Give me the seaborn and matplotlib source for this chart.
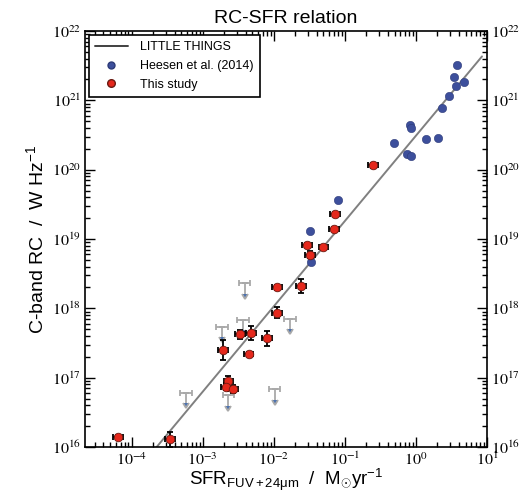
import numpy as np
import matplotlib
matplotlib.use("Agg")
import matplotlib.pyplot as plt
import seaborn as sns
from matplotlib.lines import Line2D
from matplotlib.ticker import LogLocator, FuncFormatter, NullFormatter

# Heesen et al. (2014) galaxies: SFR [Msun/yr], C-band radio continuum [W/Hz]
heesen_sfr = [3.82, 3.43, 3.66, 4.79, 2.94, 2.34, 0.82, 0.84, 0.49, 1.38,
              2.04, 0.74, 0.85, 0.079, 0.032, 0.033]
heesen_rc = [3.24e21, 2.19e21, 1.62e21, 1.86e21, 1.17e21, 7.8e20, 4.4e20,
             4.0e20, 2.45e20, 2.8e20, 2.9e20, 1.66e20, 1.55e20, 3.6e19,
             1.3e19, 4.6e18]

# This study: detections with uncertainties (in dex)
study_sfr = [0.25, 0.072, 0.070, 0.029, 0.050, 0.032, 0.011, 0.024, 0.011,
             0.0033, 0.0048, 0.0081, 0.0019, 0.0044, 0.0023, 0.0021, 0.0027,
             6.5e-5, 3.5e-4]
study_rc = [1.15e20, 2.3e19, 1.4e19, 8.1e18, 7.6e18, 5.9e18, 2.0e18, 2.1e18,
            8.7e17, 4.2e17, 4.4e17, 3.7e17, 2.5e17, 2.2e17, 8.9e16, 7.4e16,
            6.9e16, 1.38e16, 1.29e16]
study_sfr_err_dex = [0.07] * len(study_sfr)
study_rc_err_dex = [0.03, 0.03, 0.03, 0.03, 0.03, 0.05, 0.03, 0.10, 0.08,
                    0.06, 0.10, 0.11, 0.14, 0.03, 0.07, 0.05, 0.06, 0.03, 0.11]

# This study: non-detections (upper limits)
limit_sfr = [0.0039, 0.0168, 0.0037, 0.00186, 5.8e-4, 0.0103, 0.0023]
limit_rc = [2.3e18, 7.1e17, 6.8e17, 5.4e17, 6.0e16, 6.8e16, 5.6e16]
limit_sfr_err_dex = 0.08
limit_arrow_dex = 0.15

# LITTLE THINGS relation (end points)
littlethings_sfr = [1.0e-4, 8.5]
littlethings_rc = [3.7e15, 4.3e21]

sns.set_theme(style="ticks")
plt.rcParams.update({
    "font.family": ["Liberation Sans", "DejaVu Sans"],
    "mathtext.fontset": "stix",
    "mathtext.rm": "Liberation Sans",
    "mathtext.it": "Liberation Sans:italic",
    "mathtext.bf": "Liberation Sans:bold",
    "text.color": "black",
    "axes.labelcolor": "black",
    "xtick.color": "black",
    "ytick.color": "black",
    "axes.edgecolor": "black",
})

fig = plt.figure(figsize=(5.2, 4.95), dpi=100)
ax = fig.add_axes([85 / 520, 48 / 495, 402 / 520, 416 / 495])
ax.set_xscale("log")
ax.set_yscale("log")


def dex_err(values, dex):
    v = np.asarray(values, dtype=float)
    d = np.broadcast_to(np.asarray(dex, dtype=float), v.shape)
    return np.vstack([v - v * 10 ** (-d), v * 10 ** d - v])


# relation line
sns.lineplot(x=littlethings_sfr, y=littlethings_rc, ax=ax, color="#808080",
             lw=1.4, zorder=2, estimator=None, sort=False)

# upper limits
ax.errorbar(limit_sfr, limit_rc,
            xerr=dex_err(limit_sfr, limit_sfr_err_dex),
            yerr=np.asarray(limit_rc) * (1 - 10 ** (-limit_arrow_dex)),
            uplims=True, fmt="none", ecolor="#a9a9a9", elinewidth=1.3,
            capsize=2.5, capthick=1.3, zorder=2)

# Heesen et al. points
sns.scatterplot(x=heesen_sfr, y=heesen_rc, ax=ax, color="#3d4f9c", s=36,
                edgecolor="#2c3a78", linewidth=0.4, zorder=4)

# detections with error bars
ax.errorbar(study_sfr, study_rc,
            xerr=dex_err(study_sfr, study_sfr_err_dex),
            yerr=dex_err(study_rc, study_rc_err_dex),
            fmt="none", ecolor="black", elinewidth=1.3, capsize=2.5,
            capthick=1.3, zorder=3)
sns.scatterplot(x=study_sfr, y=study_rc, ax=ax, color="#e5281c", s=38,
                edgecolor="#6a1a12", linewidth=0.6, zorder=5)

ax.set_xlim(2.2e-5, 10)
ax.set_ylim(1e16, 1e22)


def pow10(val, pos):
    return r"$10^{%d}$" % int(round(np.log10(val)))


for axis in (ax.xaxis, ax.yaxis):
    axis.set_major_locator(LogLocator(base=10, numticks=20))
    axis.set_minor_locator(LogLocator(base=10, subs=np.arange(2, 10), numticks=20))
    axis.set_major_formatter(FuncFormatter(pow10))
    axis.set_minor_formatter(NullFormatter())

ax.tick_params(which="both", direction="in", top=True, right=True,
               labelright=True, width=1.0, labelsize=11.5)
ax.tick_params(axis="x", pad=3)
ax.tick_params(axis="y", pad=3)
ax.tick_params(which="major", length=7)
ax.tick_params(which="minor", length=3.5)
for sp in ax.spines.values():
    sp.set_linewidth(1.2)
    sp.set_color("black")

ax.set_xlabel(r"SFR$_{\mathrm{FUV+24\mu m}}$  /  M$_{\odot}$yr$^{-1}$",
              fontsize=13.5, math_fontfamily="custom", labelpad=-1)
ax.set_ylabel(r"C-band RC  /  W Hz$^{-1}$", fontsize=14,
              math_fontfamily="custom", labelpad=3)
ax.set_title("RC-SFR relation", fontsize=14, pad=6)

handles = [
    Line2D([], [], color="#404040", lw=1.4),
    Line2D([], [], ls="none", marker="o", markersize=5,
           markerfacecolor="#3d4f9c", markeredgecolor="#2c3a78"),
    Line2D([], [], ls="none", marker="o", markersize=5.5,
           markerfacecolor="#e5281c", markeredgecolor="#6a1a12"),
]
labels = ["LITTLE THINGS", "Heesen et al. (2014)", "This study"]
leg = ax.legend(handles, labels, loc="upper left", fontsize=9,
                frameon=True, fancybox=False, borderaxespad=0.3,
                handlelength=2.6, handletextpad=1.0, labelspacing=0.55,
                borderpad=0.5)
leg.get_frame().set_edgecolor("black")
leg.get_frame().set_linewidth(1.2)
leg.get_frame().set_alpha(1)

fig.savefig("out.png", dpi=100)
